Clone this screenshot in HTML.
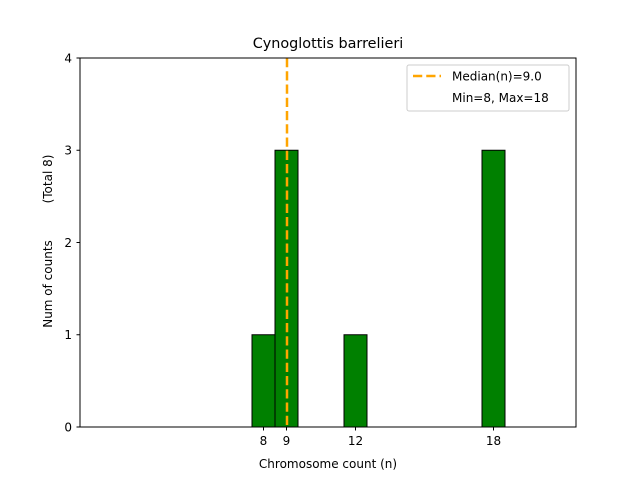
<!DOCTYPE html>
<html><head><meta charset="utf-8"><style>body{margin:0;background:#fff}svg{display:block}text{font-family:"DejaVu Sans","Liberation Sans",sans-serif;fill:#000}</style></head>
<body>
<svg width="640" height="480" viewBox="0 0 640 480" xmlns="http://www.w3.org/2000/svg">
<rect width="640" height="480" fill="#fff"/>
<text x="328" y="48" font-size="14.4" text-anchor="middle">Cynoglottis barrelieri</text>
<g fill="#008000" stroke="#000" stroke-width="1">
<rect x="252" y="334.75" width="23" height="92.25"/>
<rect x="275" y="150.25" width="23" height="276.75"/>
<rect x="344" y="334.75" width="23" height="92.25"/>
<rect x="482" y="150.25" width="23" height="276.75"/>
</g>
<line x1="287" y1="58" x2="287" y2="427" stroke="#FFA500" stroke-width="2.5" stroke-dasharray="9.25,4"/>
<rect x="80" y="58" width="496" height="369" fill="none" stroke="#000" stroke-width="1"/>
<g stroke="#000" stroke-width="1">
<line x1="76.5" y1="427" x2="80" y2="427"/><line x1="76.5" y1="334.75" x2="80" y2="334.75"/>
<line x1="76.5" y1="242.5" x2="80" y2="242.5"/><line x1="76.5" y1="150.25" x2="80" y2="150.25"/>
<line x1="76.5" y1="58" x2="80" y2="58"/>
<line x1="263.5" y1="427" x2="263.5" y2="430.5"/><line x1="286.5" y1="427" x2="286.5" y2="430.5"/>
<line x1="355.5" y1="427" x2="355.5" y2="430.5"/><line x1="493.5" y1="427" x2="493.5" y2="430.5"/>
</g>
<g font-size="12" text-anchor="end">
<text x="72" y="431.5">0</text><text x="72" y="339">1</text><text x="72" y="247">2</text>
<text x="72" y="154.5">3</text><text x="72" y="62.5">4</text>
</g>
<g font-size="12" text-anchor="middle">
<text x="263.5" y="445">8</text><text x="286.5" y="445">9</text>
<text x="355.5" y="445">12</text><text x="493.5" y="445">18</text>
<text x="328" y="468">Chromosome count (n)</text>
</g>
<text font-size="12" text-anchor="middle" transform="translate(52,284) rotate(-90)">Num of counts</text>
<text font-size="12" text-anchor="middle" transform="translate(52,179) rotate(-90)">(Total 8)</text>
<rect x="407" y="65" width="162" height="46" rx="2" fill="#fff" stroke="#ccc" stroke-width="1"/>
<line x1="413" y1="76" x2="441" y2="76" stroke="#FFA500" stroke-width="2.5" stroke-dasharray="9.25,4"/>
<text x="452" y="80.5" font-size="12">Median(n)=9.0</text>
<text x="452" y="102" font-size="12">Min=8, Max=18</text>
</svg>
</body></html>
